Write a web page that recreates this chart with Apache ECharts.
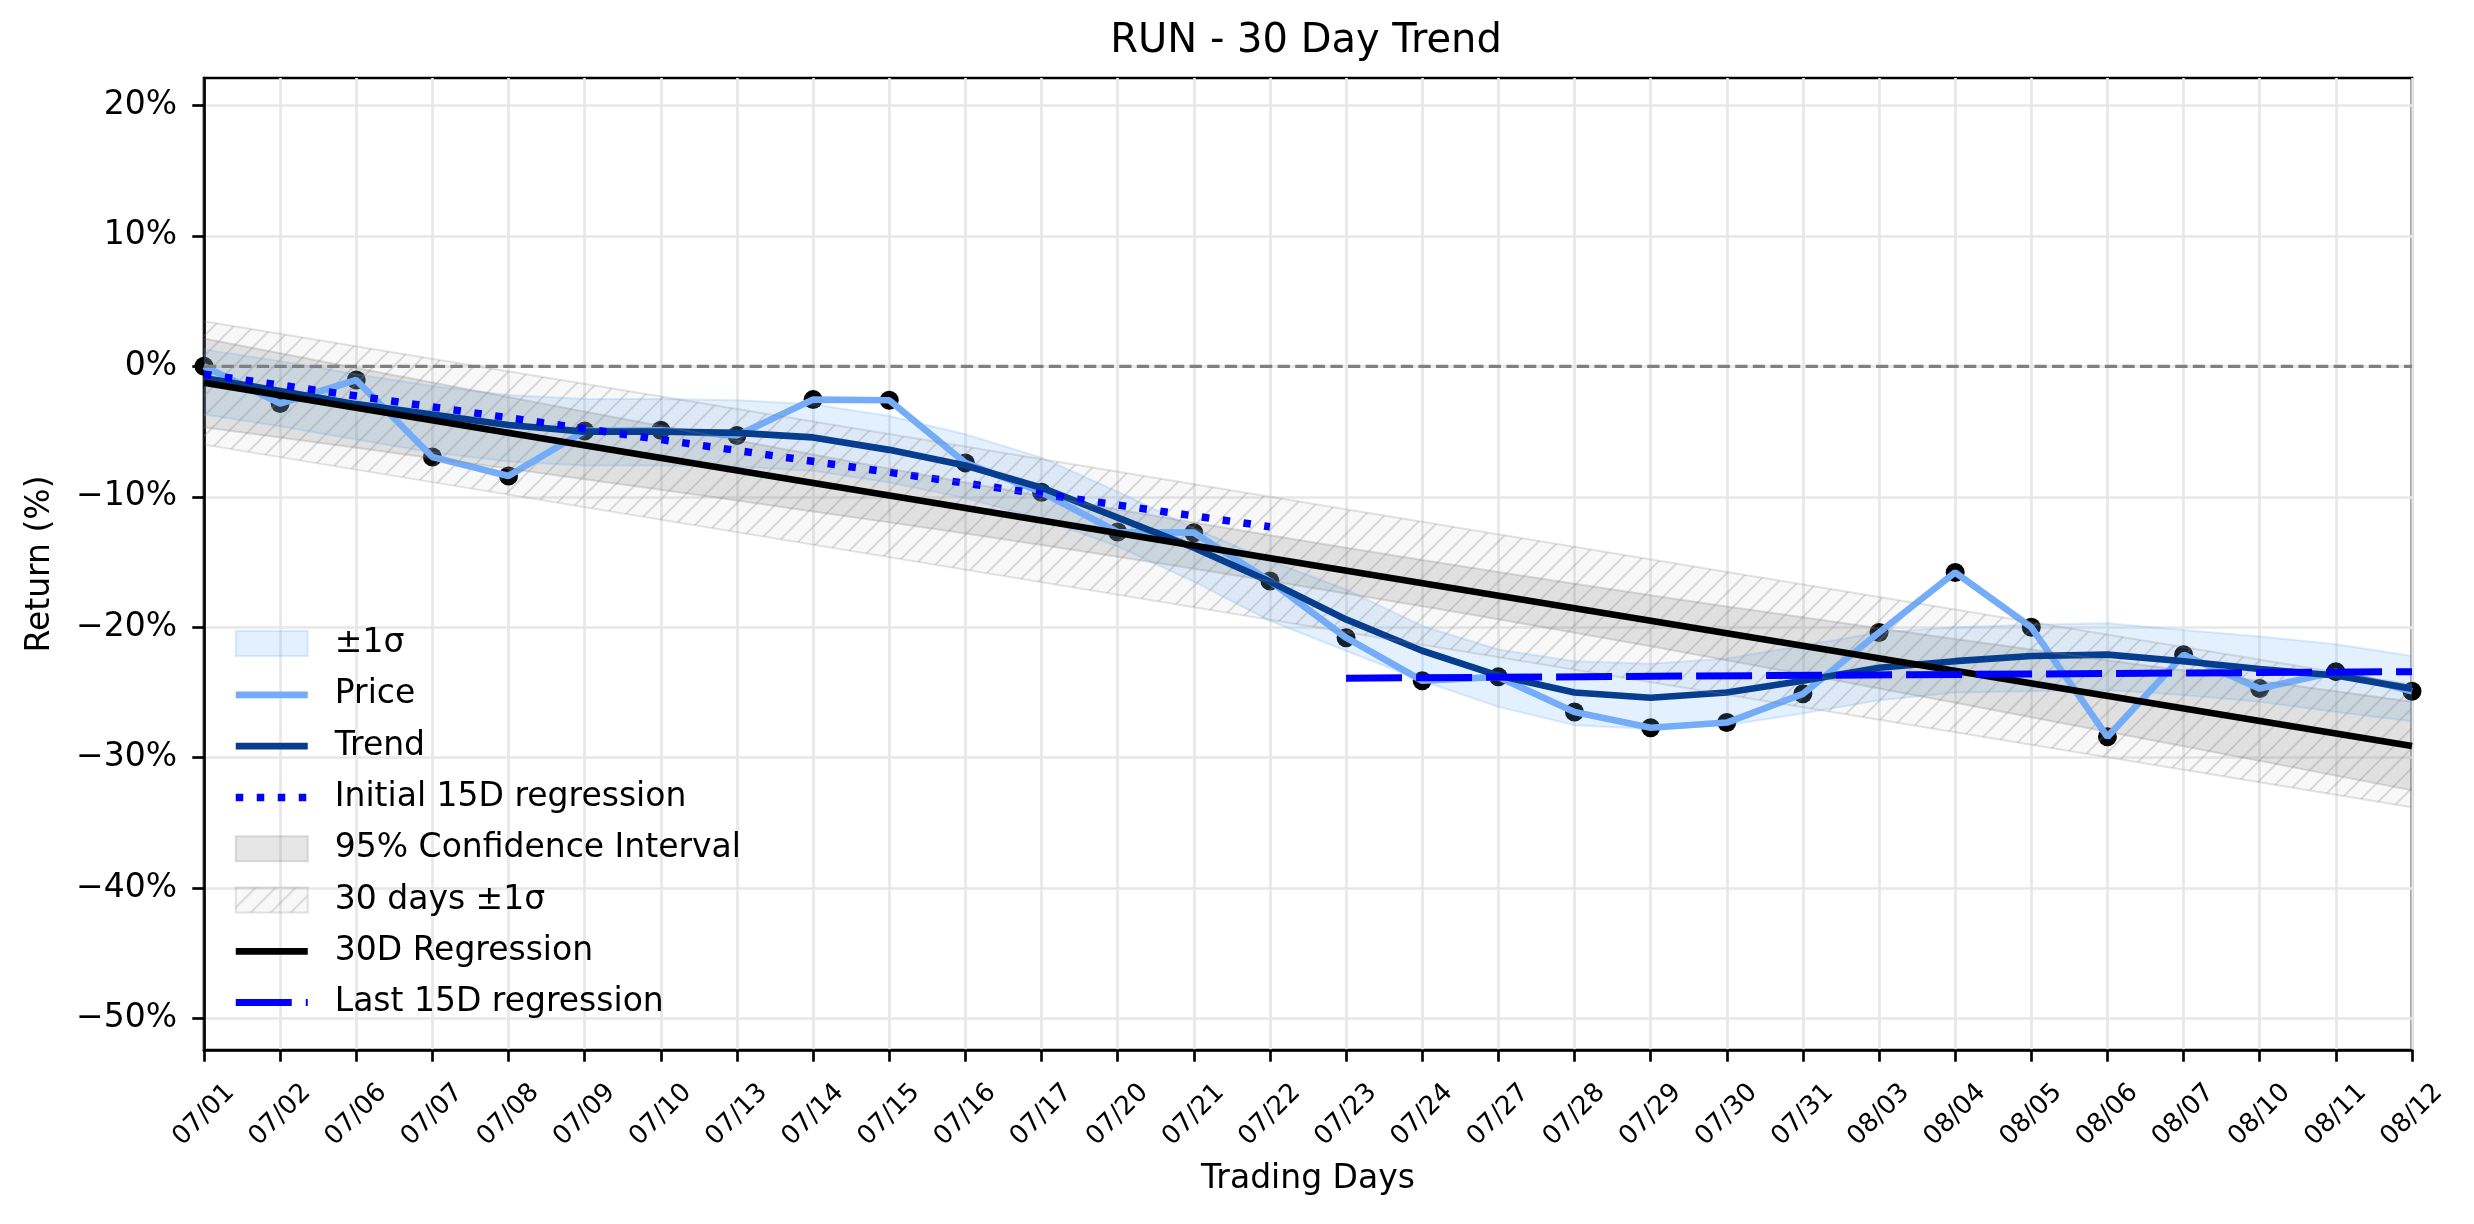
<!DOCTYPE html>
<html><head><meta charset="utf-8">
<script src="https://cdn.jsdelivr.net/npm/echarts@6/dist/echarts.min.js"></script>
<style>html,body{margin:0;padding:0;background:#fff}#c{width:2474px;height:1224px}</style>
</head><body><div id="c"></div>
<script>
const dates = ['07/01','07/02','07/06','07/07','07/08','07/09','07/10','07/13','07/14','07/15','07/16','07/17','07/20','07/21','07/22','07/23','07/24','07/27','07/28','07/29','07/30','07/31','08/03','08/04','08/05','08/06','08/07','08/10','08/11','08/12'];
const price = [0, -2.85, -1.05, -6.95, -8.4, -4.95, -4.9, -5.3, -2.55, -2.6, -7.4, -9.65, -12.7, -12.75, -16.45, -20.8, -24.1, -23.8, -26.5, -27.7, -27.3, -25.1, -20.4, -15.8, -20.0, -28.4, -22.1, -24.7, -23.4, -24.9];
const trend = [-0.9, -1.9, -2.9, -3.7, -4.5, -5.0, -5.0, -5.1, -5.45, -6.4, -7.6, -9.3, -11.6, -13.9, -16.5, -19.4, -21.8, -23.7, -25.0, -25.4, -25.0, -24.1, -23.1, -22.6, -22.2, -22.1, -22.6, -23.2, -23.7, -24.7];
const sigmaUpper = [1.3, 0.4, -0.6, -1.5, -2.2, -2.5, -2.5, -2.6, -2.9, -3.8, -5.2, -7.0, -9.6, -12.4, -14.9, -17.1, -19.9, -21.7, -22.6, -22.8, -22.4, -21.4, -20.4, -20.0, -19.8, -19.7, -20.2, -20.7, -21.3, -22.2];
const sigmaLower = [-3.7, -4.6, -5.6, -6.6, -7.3, -7.6, -7.6, -7.7, -8.0, -8.9, -10.1, -11.7, -13.8, -16.5, -19.5, -21.8, -24.1, -26.1, -27.5, -27.8, -27.5, -26.6, -25.6, -25.0, -24.9, -24.8, -25.2, -25.7, -26.5, -27.2];
const ciUpper = [2.14, 1.01, -0.12, -1.24, -2.36, -3.47, -4.58, -5.67, -6.76, -7.84, -8.90, -9.94, -10.97, -11.97, -12.95, -13.91, -14.85, -15.77, -16.66, -17.54, -18.40, -19.24, -20.07, -20.90, -21.71, -22.52, -23.32, -24.12, -24.91, -25.70];
const ciLower = [-4.66, -5.45, -6.24, -7.04, -7.84, -8.65, -9.46, -10.29, -11.12, -11.96, -12.82, -13.70, -14.59, -15.51, -16.45, -17.41, -18.39, -19.39, -20.42, -21.46, -22.52, -23.60, -24.69, -25.78, -26.89, -28.00, -29.12, -30.24, -31.37, -32.50];
const hatchX = [0, 29];
const hatchUpper = [3.45, -24.4];
const hatchLower = [-6.0, -33.8];
const reg30X = [0, 29];
const reg30 = [-1.26, -29.1];
const initRegX = [0, 14];
const initReg = [-0.6, -12.3];
const lastRegX = [15, 29];
const lastReg = [-23.9, -23.4];
const zeroX = [0, 29];
const zeroY = [0, 0];
const yTicks = [-50, -40, -30, -20, -10, 0, 10, 20];
const yMin = -52.4, yMax = 22.1;

const FONT = 'DejaVu Sans';
function pairs(xs, ys) { return xs.map((x, i) => [x, ys[i]]); }

function hatchPattern() {
  const c = document.createElement('canvas');
  c.width = 20; c.height = 20;
  const g = c.getContext('2d');
  g.fillStyle = 'rgba(128,128,128,0.06)';
  g.fillRect(0, 0, 20, 20);
  g.strokeStyle = 'rgba(128,128,128,0.3)';
  g.lineWidth = 1.6;
  g.beginPath();
  for (const k of [0, 20, 40]) { g.moveTo(k + 5, -5); g.lineTo(k - 25, 25); }
  g.stroke();
  return { image: c, repeat: 'repeat' };
}
const hatch = hatchPattern();

const sigmaFill = 'rgba(100,170,245,0.18)';
const sigmaEdge = 'rgba(100,170,245,0.22)';
const ciFill = 'rgba(128,128,128,0.2)';
const ciEdge = 'rgba(128,128,128,0.25)';
const hatchEdge = 'rgba(128,128,128,0.22)';

const lw = 6.67;
const bandBase = { type: 'line', symbol: 'none', silent: true, stackStrategy: 'all' };

const series = [
  Object.assign({}, bandBase, { name: '_sigLow', stack: 'sig', data: sigmaLower, lineStyle: { color: sigmaEdge, width: 2 } }),
  Object.assign({}, bandBase, { name: '±1σ', stack: 'sig', data: sigmaUpper.map((u, i) => u - sigmaLower[i]), lineStyle: { color: sigmaEdge, width: 2 }, areaStyle: { color: sigmaFill, opacity: 1 } }),
  { name: 'Price', type: 'line', symbol: 'none', data: price, lineStyle: { color: '#75acf8', width: lw }, itemStyle: { color: '#75acf8' } },
  { name: 'Trend', type: 'line', symbol: 'none', data: trend, lineStyle: { color: '#073d8e', width: lw }, itemStyle: { color: '#073d8e' } },
  { name: 'Initial 15D regression', type: 'line', symbol: 'none', data: pairs(initRegX, initReg), lineStyle: { color: '#0000ff', width: 7.5, type: [7.5, 13.5] }, itemStyle: { color: '#0000ff' } },
  Object.assign({}, bandBase, { name: '_ciLow', stack: 'ci', data: ciLower, lineStyle: { color: ciEdge, width: 2 } }),
  Object.assign({}, bandBase, { name: '95% Confidence Interval', stack: 'ci', data: ciUpper.map((u, i) => u - ciLower[i]), lineStyle: { color: ciEdge, width: 2 }, areaStyle: { color: ciFill, opacity: 1 } }),
  Object.assign({}, bandBase, { name: '_hatchLow', stack: 'hatch', data: pairs(hatchX, hatchLower), lineStyle: { color: hatchEdge, width: 2 } }),
  Object.assign({}, bandBase, { name: '30 days ±1σ', stack: 'hatch', data: pairs(hatchX, hatchUpper.map((u, i) => u - hatchLower[i])), lineStyle: { color: hatchEdge, width: 2 }, areaStyle: { color: hatch, opacity: 1 } }),
  { name: '_zero', type: 'line', symbol: 'none', silent: true, data: pairs(zeroX, zeroY), lineStyle: { color: '#808080', width: 3.3, type: [12.3, 5.3] } },
  { name: '30D Regression', type: 'line', symbol: 'none', data: pairs(reg30X, reg30), lineStyle: { color: '#000000', width: lw }, itemStyle: { color: '#000' } },
  { name: 'Last 15D regression', type: 'line', symbol: 'none', data: pairs(lastRegX, lastReg), lineStyle: { color: '#0000ff', width: 7, type: [56, 14] }, itemStyle: { color: '#0000ff' } },
  { name: '_points', type: 'scatter', data: price, symbol: 'circle', symbolSize: 19, itemStyle: { color: '#000', opacity: 1 }, silent: true }
];

const lineItem = (name) => ({ name, itemStyle: { opacity: 0 } });
const chart = echarts.init(document.getElementById('c'), null, { renderer: 'canvas' });
chart.setOption({
  animation: false,
  backgroundColor: '#ffffff',
  textStyle: { fontFamily: FONT },
  title: {
    text: 'RUN - 30 Day Trend', left: 1306, top: 20, padding: 0, textAlign: 'center',
    textStyle: { fontFamily: FONT, fontSize: 40, fontWeight: 'normal', color: '#000', lineHeight: 44 }
  },
  grid: { left: 204, right: 62, top: 78, bottom: 174, show: true, borderColor: '#000', borderWidth: 2.67, backgroundColor: 'transparent' },
  legend: {
    orient: 'vertical', left: 232, top: 627, padding: 0,
    itemWidth: 72, itemHeight: 25, itemGap: 18.3, selectedMode: false,
    textStyle: { fontFamily: FONT, fontSize: 33, color: '#000', lineHeight: 25, padding: [0, 0, 0, 22] },
    lineStyle: { width: 'inherit' },
    data: [
      { name: '±1σ', icon: 'rect', itemStyle: { color: sigmaFill, borderColor: sigmaEdge, borderWidth: 2, opacity: 1 } },
      lineItem('Price'),
      lineItem('Trend'),
      lineItem('Initial 15D regression'),
      { name: '95% Confidence Interval', icon: 'rect', itemStyle: { color: ciFill, borderColor: ciEdge, borderWidth: 2, opacity: 1 } },
      { name: '30 days ±1σ', icon: 'rect', itemStyle: { color: hatch, borderColor: hatchEdge, borderWidth: 2, opacity: 1 } },
      lineItem('30D Regression'),
      lineItem('Last 15D regression')
    ]
  },
  xAxis: {
    type: 'category', data: dates, boundaryGap: false,
    name: 'Trading Days', nameLocation: 'middle', nameGap: 113,
    nameTextStyle: { fontFamily: FONT, fontSize: 33, color: '#000' },
    axisLine: { show: true, onZero: false, lineStyle: { color: '#000', width: 2.67 } },
    axisTick: { show: true, inside: false, length: 11.7, interval: 0, lineStyle: { color: '#000', width: 2.67 } },
    axisLabel: { interval: 0, rotate: 45, align: 'center', verticalAlign: 'middle', margin: 65, fontFamily: FONT, fontSize: 26, color: '#000' },
    splitLine: { show: true, interval: 0, lineStyle: { color: '#e7e7e7', width: 2.67 } }
  },
  yAxis: {
    type: 'value', min: yMin, max: yMax, splitNumber: 7,
    name: 'Return (%)', nameLocation: 'middle', nameGap: 147, nameRotate: 90,
    nameTextStyle: { fontFamily: FONT, fontSize: 33, color: '#000' },
    axisLine: { show: true, lineStyle: { color: '#000', width: 2.67 } },
    axisTick: { show: true, inside: false, length: 11.7, customValues: yTicks, lineStyle: { color: '#000', width: 2.67 } },
    axisLabel: {
      customValues: yTicks, margin: 27, fontFamily: FONT, fontSize: 33, color: '#000',
      formatter: v => (v < 0 ? '\u2212' : '') + Math.abs(Math.round(v)) + '%'
    },
    splitLine: { show: true, lineStyle: { color: '#e7e7e7', width: 2.67 } }
  },
  series
});
</script></body></html>
